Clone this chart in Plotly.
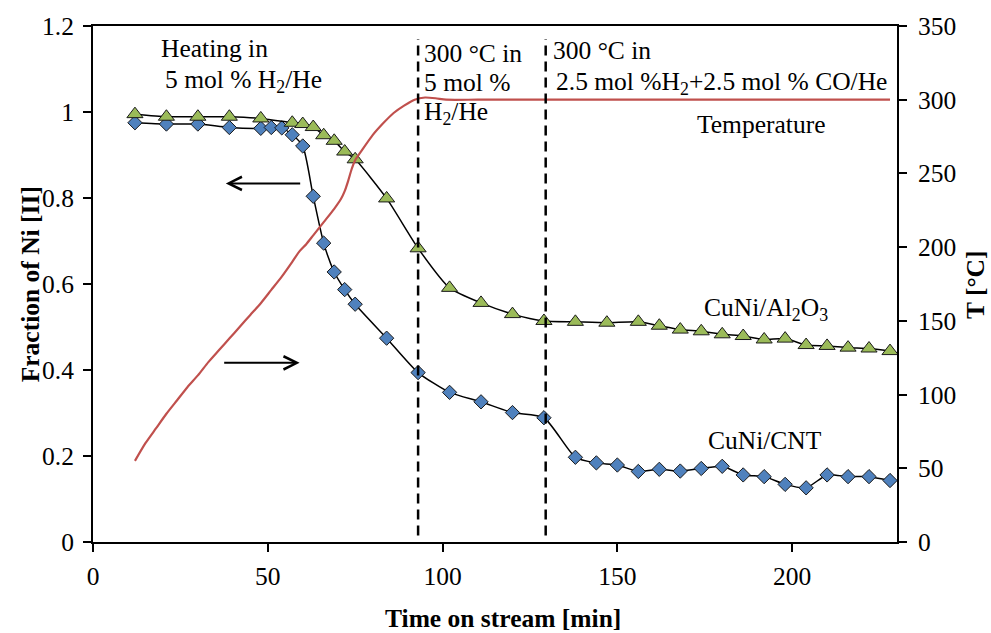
import plotly.graph_objects as go

# ---- data ----
cnt_t = [12, 21, 30, 39, 48, 51, 54, 57, 60, 63, 66, 69, 72, 75, 84, 93, 102, 111, 120, 129,
         138, 144, 150, 156, 162, 168, 174, 180, 186, 192, 198, 204, 210, 216, 222, 228]
cnt_frac = [0.975, 0.972, 0.972, 0.964, 0.962, 0.964, 0.963, 0.947, 0.921, 0.804, 0.695, 0.628,
            0.587, 0.553, 0.474, 0.394, 0.348, 0.326, 0.301, 0.289, 0.197, 0.184, 0.179, 0.164,
            0.169, 0.165, 0.171, 0.176, 0.156, 0.152, 0.134, 0.126, 0.156, 0.152, 0.152, 0.143]

al_t = [12, 21, 30, 39, 48, 57, 60, 63, 66, 69, 72, 75, 84, 93, 102, 111, 120, 129, 138, 147,
        156, 162, 168, 174, 180, 186, 192, 198, 204, 210, 216, 222, 228]
al_frac = [0.995, 0.989, 0.989, 0.989, 0.985, 0.975, 0.972, 0.965, 0.946, 0.933, 0.908, 0.890,
           0.799, 0.683, 0.591, 0.556, 0.530, 0.514, 0.512, 0.510, 0.512, 0.503, 0.494, 0.490,
           0.483, 0.479, 0.471, 0.473, 0.458, 0.456, 0.452, 0.450, 0.444]

temp_t = [12, 15, 18, 21, 24, 27, 30, 33, 36, 39, 42, 45, 48, 51, 54, 57, 59, 61, 63, 66, 69,
          71, 72, 73, 74, 75, 77, 80, 83, 86, 89, 92, 95, 98, 101, 110, 130, 160, 200, 228]
temp_c = [55, 67, 77, 87, 96, 105, 113, 122, 130, 138, 146, 154, 162, 171, 180, 190, 197, 202,
          208, 217, 226, 233, 238, 245, 253, 259, 266, 276, 284, 291, 296, 300, 301.5, 301, 300,
          300, 300, 300, 300, 300]

step_times = [93, 129.5]
x_ticks = [0, 50, 100, 150, 200]
y_ticks = [0, 0.2, 0.4, 0.6, 0.8, 1.0, 1.2]
y_tick_text = ["0", "0.2", "0.4", "0.6", "0.8", "1", "1.2"]
y2_ticks = [0, 50, 100, 150, 200, 250, 300, 350]

FONT = "Liberation Serif, Times New Roman, serif"
FS = 25.5

fig = go.Figure()

fig.add_trace(go.Scatter(
    x=cnt_t, y=cnt_frac, mode="lines+markers", name="CuNi/CNT",
    line=dict(color="black", width=1.5, shape="spline", smoothing=0.6),
    marker=dict(symbol="diamond", size=11, color="#4F81BD",
                line=dict(color="#1a1a1a", width=1)),
))
fig.add_trace(go.Scatter(
    x=al_t, y=al_frac, mode="lines+markers", name="CuNi/Al2O3",
    line=dict(color="black", width=1.5, shape="spline", smoothing=0.6),
    marker=dict(symbol="triangle-up", size=14, color="#9BBB59",
                line=dict(color="#1a1a1a", width=1)),
))
fig.add_trace(go.Scatter(
    x=temp_t, y=temp_c, mode="lines", name="Temperature", yaxis="y2",
    line=dict(color="#C0504D", width=2.2, shape="spline", smoothing=0.6),
))

for st in step_times:
    fig.add_shape(type="line", xref="x", yref="y", x0=st, x1=st, y0=0.015, y1=1.17,
                  line=dict(color="black", width=2.5, dash="10px,6px"))

anns = [
    dict(x=18.8, y=1.147, text="Heating in"),
    dict(x=20.1, y=1.073, text="5 mol % H<sub>2</sub>/He"),
    dict(x=94.0, y=1.135, text="300 °C in"),
    dict(x=94.0, y=1.068, text="5 mol %"),
    dict(x=94.0, y=0.997, text="H<sub>2</sub>/He"),
    dict(x=131.1, y=1.143, text="300 °C in"),
    dict(x=132.0, y=1.068, text="2.5 mol %H<sub>2</sub>+2.5 mol % CO/He"),
    dict(x=172.3, y=0.97, text="Temperature"),
    dict(x=174.3, y=0.543, text="CuNi/Al<sub>2</sub>O<sub>3</sub>"),
    dict(x=175.3, y=0.235, text="CuNi/CNT"),
]
for a in anns:
    fig.add_annotation(xref="x", yref="y", xanchor="left", yanchor="middle",
                       showarrow=False, font=dict(family=FONT, size=FS, color="black"), **a)

# arrows pointing to the respective axes
fig.add_annotation(xref="x", yref="y", axref="x", ayref="y", x=38, y=0.834, ax=59.7, ay=0.834,
                   text="", showarrow=True, arrowhead=5, arrowsize=1.3, arrowwidth=2,
                   arrowcolor="black")
fig.add_annotation(xref="x", yref="y", axref="x", ayref="y", x=59.1, y=0.4166, ax=37.1, ay=0.4166,
                   text="", showarrow=True, arrowhead=5, arrowsize=1.3, arrowwidth=2,
                   arrowcolor="black")

# axis titles
title_font = dict(family=FONT, size=FS, color="black")
fig.add_annotation(xref="paper", yref="paper", x=-0.078, y=0.5, xanchor="center", yanchor="middle",
                   text="<b>Fraction of Ni [II]</b>", textangle=-90, showarrow=False, font=title_font)
fig.add_annotation(xref="paper", yref="paper", x=1.097, y=0.5, xanchor="center", yanchor="middle",
                   text="<b>T [°C]</b>", textangle=-90, showarrow=False, font=title_font)
fig.add_annotation(xref="paper", yref="paper", x=0.51, y=-0.149, xanchor="center", yanchor="middle",
                   text="<b>Time on stream [min]</b>", showarrow=False, font=title_font)

axis_common = dict(showgrid=False, zeroline=False, showline=True, linecolor="black", linewidth=2,
                   ticks="outside", ticklen=8, tickwidth=2, tickcolor="black",
                   tickfont=dict(family=FONT, size=FS, color="black"))

fig.update_layout(
    width=991, height=633,
    margin=dict(l=93, r=94, t=24, b=91, pad=0),
    paper_bgcolor="white", plot_bgcolor="white",
    showlegend=False,
    xaxis=dict(range=[0, 230], tickvals=x_ticks, mirror=True, ticklabelstandoff=2, **axis_common),
    yaxis=dict(range=[0, 1.2], tickvals=y_ticks, ticktext=y_tick_text, ticklabelstandoff=4,
               **axis_common),
    yaxis2=dict(range=[0, 350], tickvals=y2_ticks, overlaying="y", side="right",
                ticklabelstandoff=6, **axis_common),
)

fig.write_html("out.html")
